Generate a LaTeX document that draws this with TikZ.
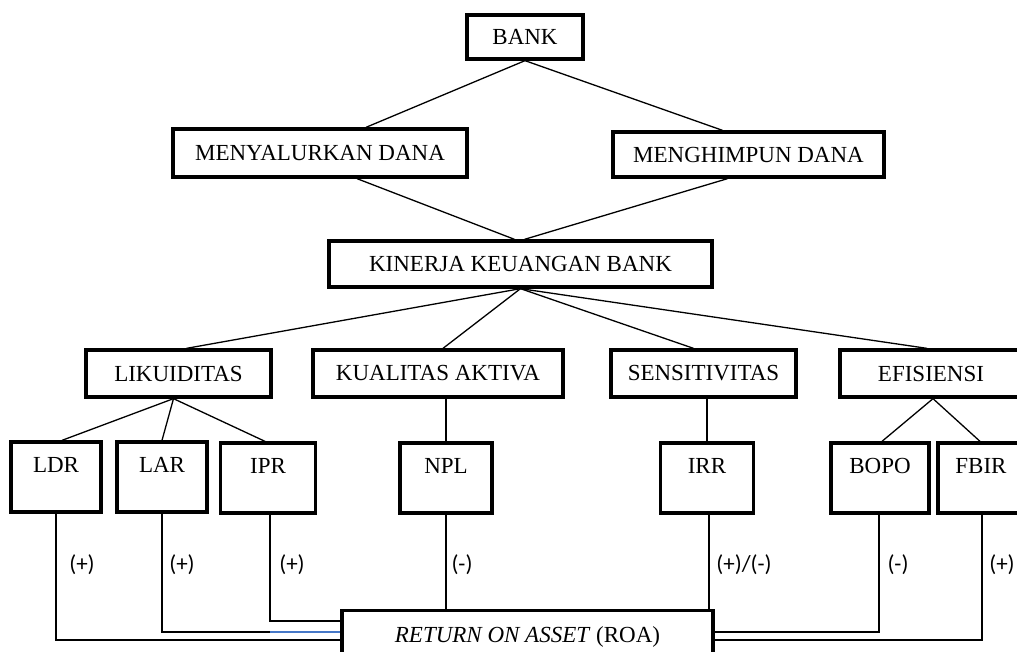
\documentclass[tikz,border=0pt]{standalone}
\usepackage{fontspec}
\setmainfont{Liberation Serif}
\newfontfamily\lblfont{Carlito}
\begin{document}
\begin{tikzpicture}[x=1pt,y=-1pt,
  box/.style={draw, line width=3.3pt, inner sep=0pt, font=\fontsize{23}{26}\selectfont},
  topbox/.style={box, text height=30pt, text depth=40pt},
  conn/.style={line width=1.3pt},
  sign/.style={font=\lblfont\fontsize{23}{26}\selectfont, inner sep=0pt}]
\clip (0,0) rectangle (1017,652);
\fill[white] (0,0) rectangle (1017,652);
% level 1-3
\node[box, minimum width=116pt, minimum height=44pt] (bank) at (525,37) {BANK};
\node[box, minimum width=294pt, minimum height=48pt] (meny) at (320,153) {MENYALURKAN DANA};
\node[box, minimum width=271pt, minimum height=45pt] (meng) at (748.5,154.5) {MENGHIMPUN DANA};
\node[box, minimum width=383pt, minimum height=46pt] (kin) at (520.5,264) {KINERJA KEUANGAN BANK};
% level 4
\node[box, minimum width=185pt, minimum height=47pt] (lik) at (178.5,373.5) {LIKUIDITAS};
\node[box, minimum width=250pt, minimum height=47pt] (kua) at (438,373.5) {KUALITAS AKTIVA};
\node[box, minimum width=185pt, minimum height=47pt] (sen) at (703.5,373.5) {SENSITIVITAS};
\node[box, minimum width=182pt, minimum height=47pt] (efi) at (931,373.5) {EFISIENSI};
% level 5
\node[topbox, minimum width=90pt] (ldr) at (56,477) {LDR};
\node[topbox, minimum width=90pt] (lar) at (162,477) {LAR};
\node[topbox, minimum width=95pt] (ipr) at (268,478) {IPR};
\node[topbox, minimum width=92pt] (npl) at (446,478) {NPL};
\node[topbox, minimum width=93pt] (irr) at (707,478) {IRR};
\node[topbox, minimum width=98pt] (bopo) at (880,478) {BOPO};
\node[topbox, minimum width=86pt] (fbir) at (981,478) {FBIR};
% ROA
\node[box, minimum width=371pt, minimum height=53pt, anchor=north] (roa) at (527.5,609) {\textit{RETURN ON ASSET} (ROA)};
% helper coordinates
\coordinate (y621) at (0,621);
\coordinate (y632) at (0,632);
\coordinate (y640) at (0,640);
\coordinate (blueStart) at (270,632);
% upper connectors
\draw[conn] (bank.south) -- ([xshift=46pt]meny.north);
\draw[conn] (bank.south) -- ([xshift=-26pt]meng.north);
\draw[conn] ([xshift=37pt]meny.south) -- ([xshift=-6pt]kin.north);
\draw[conn] ([xshift=-21pt]meng.south) -- ([xshift=4pt]kin.north);
\draw[conn] (kin.south) -- ([xshift=8pt]lik.north);
\draw[conn] (kin.south) -- ([xshift=5pt]kua.north);
\draw[conn] (kin.south) -- ([xshift=-10pt]sen.north);
\draw[conn] (kin.south) -- ([xshift=-4pt]efi.north);
\draw[conn] ([xshift=-5pt]lik.south) -- ([xshift=6pt]ldr.north);
\draw[conn] ([xshift=-5pt]lik.south) -- (lar.north);
\draw[conn] ([xshift=-5pt]lik.south) -- ([xshift=-3pt]ipr.north);
\draw[conn] (kua.south -| npl.north) -- (npl.north);
\draw[conn] (sen.south -| irr.north) -- (irr.north);
\draw[conn] ([xshift=2pt]efi.south) -- ([xshift=2pt]bopo.north);
\draw[conn] ([xshift=2pt]efi.south) -- ([xshift=-1pt]fbir.north);
% lower connectors
\draw[conn] (ldr.south) |- (roa.west |- y640);
\draw[conn] (lar.south) |- (blueStart);
\draw[conn, draw={rgb,255:red,70;green,120;blue,200}] (blueStart) -- (roa.west |- y632);
\draw[conn] ([xshift=2pt]ipr.south) |- (roa.west |- y621);
\draw[conn] (npl.south) -- (roa.north -| npl.south);
\draw[conn] ([xshift=2pt]irr.south) -- ([xshift=2pt]roa.north -| irr.south);
\draw[conn] ([xshift=-1pt]bopo.south) |- (roa.east |- y632);
\draw[conn] ([xshift=1pt]fbir.south) |- (roa.east |- y640);
% signs
\node[sign] (s1) at (82,565) {(+)};
\node[sign] (s2) at (182,565) {(+)};
\node[sign] (s3) at (292,565) {(+)};
\node[sign] (s4) at (462,565) {(-)};
\node[sign] (s5) at (744,565) {(+)/(-)};
\node[sign] (s6) at (898,565) {(-)};
\node[sign] (s7) at (1002,565) {(+)};
\end{tikzpicture}
\end{document}
